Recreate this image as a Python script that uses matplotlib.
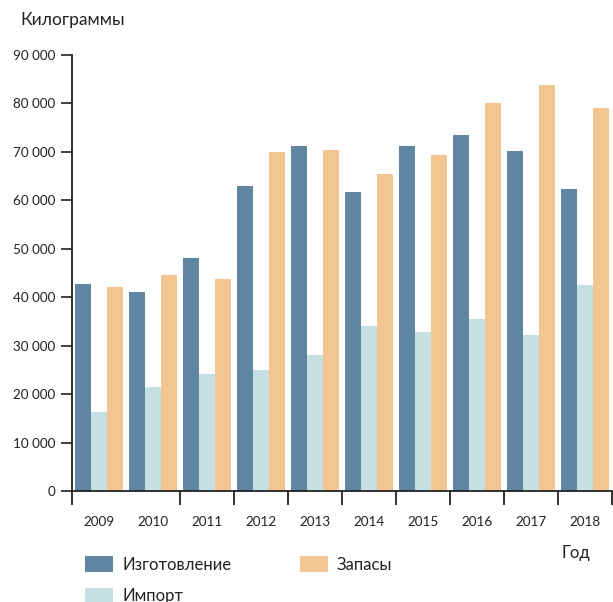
import numpy as np
import matplotlib
matplotlib.use("Agg")
import matplotlib.pyplot as plt
from matplotlib.ticker import FuncFormatter

plt.rcParams['font.family'] = ['Lato', 'DejaVu Sans']

years = ['2009', '2010', '2011', '2012', '2013', '2014', '2015', '2016', '2017', '2018']
production = [42700, 41100, 48100, 63000, 71200, 61700, 71200, 73500, 70200, 62300]
imports = [16300, 21500, 24200, 25000, 28100, 34100, 32800, 35500, 32200, 42500]
stocks = [42100, 44600, 43800, 70000, 70400, 65400, 69400, 80100, 83800, 79100]

names = ['Изготовление', 'Импорт', 'Запасы']
colors = ['#5f86a2', '#c5dfe2', '#f2c592']

fig = plt.figure(figsize=(6.13, 6.02), dpi=100)
ax = fig.add_axes([72 / 613, 1 - 491 / 602, 540 / 613, 436 / 602])

x = np.arange(len(years))
w = 0.3
ax.bar(x - w, production, w, color=colors[0], label=names[0])
ax.bar(x, imports, w, color=colors[1], label=names[1])
ax.bar(x + w, stocks, w, color=colors[2], label=names[2])

ax.set_xlim(-0.5, len(years) - 0.5)
ax.set_ylim(0, 90000)

for s in ['top', 'right']:
    ax.spines[s].set_visible(False)
for s in ['left', 'bottom']:
    ax.spines[s].set_color('#222222')
    ax.spines[s].set_linewidth(1.3)

ax.set_yticks(np.arange(0, 90001, 10000))
ax.yaxis.set_major_formatter(FuncFormatter(lambda v, p: f'{int(v):,}'.replace(',', ' ')))
ax.tick_params(axis='y', length=8, width=1.3, color='#333333', labelsize=9.7, pad=4,
               labelcolor='#222222')

ax.set_xticks(x)
ax.set_xticklabels(years)
ax.tick_params(axis='x', which='major', length=0, labelsize=9.7, pad=18, labelcolor='#222222')
# boundary ticks (the one between 2009 and 2010 is missing in the original)
bounds = [b for b in np.arange(-0.5, len(years)) if b != 0.5]
ax.set_xticks(bounds, minor=True)
ax.tick_params(axis='x', which='minor', length=10, width=1.3, color='#222222')

fig.text(20 / 613, 1 - 20 / 602, 'Килограммы', fontsize=12.5, va='center', ha='left', color='#222222')
fig.text(576 / 613, 1 - 553 / 602, 'Год', fontsize=12, va='center', ha='center', color='#222222')

fig.legend(loc='upper left', bbox_to_anchor=(85 / 613, 1 - 556 / 602), ncol=2, frameon=False,
           fontsize=12, handlelength=1.68, handleheight=1.1, handletextpad=0.55,
           columnspacing=4.1, labelspacing=0.9, borderpad=0, borderaxespad=0,
           labelcolor='#222222')

plt.savefig('out.png', dpi=100)
